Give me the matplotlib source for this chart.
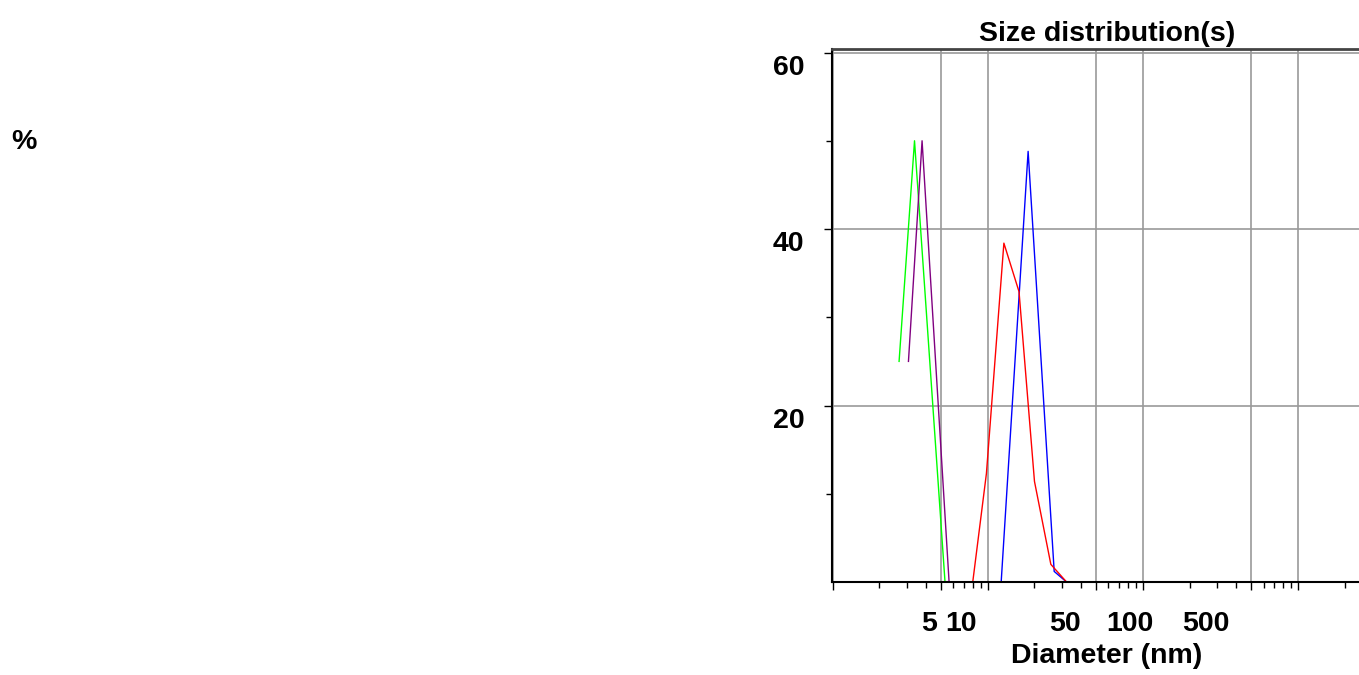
"""
    Size distribution(s) - intensity vs diameter
"""

from matplotlib import pyplot as plt
from matplotlib import ticker, transforms
import numpy as np

# data (diameter in nm, %)
green_x = [2.68, 3.37, 5.3, 12.0, 30.0, 600.0]
green_y = [25.0, 50.0, 0.0, 0.0, 0.0, 0.0]
purple_x = [3.08, 3.77, 5.63, 250.0]
purple_y = [25.0, 50.0, 0.0, 0.0]
red_x = [8.0, 9.8, 12.7, 15.9, 20.0, 25.5, 32.2, 350.0]
red_y = [0.0, 12.3, 38.4, 32.9, 11.4, 2.0, 0.0, 0.0]
blue_x = [2.4, 12.2, 18.2, 26.8, 32.2, 200.0]
blue_y = [0.0, 0.0, 48.8, 1.2, 0.0, 0.0]

x_major = [1, 5, 10, 50, 100, 500, 1000]
x_labels = ["", "5", "10", "50", "100", "500", ""]
x_label_shift = [0, -12, -27, -31, -13, -45, 0]  # px, as in reference
y_major = [20, 40, 60]
y_minor = [10, 30, 50]

FONT = "Liberation Sans"
FS = 20.5


def draw_fig():
    plt.rcParams["font.family"] = [FONT, "DejaVu Sans"]
    plt.rcParams["font.weight"] = "bold"

    fig = plt.figure(figsize=(13.59, 6.75), dpi=100)
    ax = fig.add_axes([832 / 1359, 93 / 675, 550 / 1359, 533 / 675])

    ax.plot(blue_x, blue_y, color="#0000ff", lw=1.0)
    ax.plot(green_x, green_y, color="#00ff00", lw=1.0)
    ax.plot(purple_x, purple_y, color="#800080", lw=1.0)
    ax.plot(red_x, red_y, color="#ff0000", lw=1.0)

    ax.set_xscale("log")
    ax.set_xlim(0.99, 3480)
    ax.set_ylim(0, 60.4)

    ax.xaxis.set_major_locator(ticker.FixedLocator(x_major))
    ax.xaxis.set_major_formatter(ticker.FixedFormatter(x_labels))
    ax.xaxis.set_minor_locator(ticker.LogLocator(base=10, subs=(2, 3, 4, 6, 7, 8, 9), numticks=20))
    ax.xaxis.set_minor_formatter(ticker.NullFormatter())
    ax.set_yticks(y_major)
    ax.set_yticks(y_minor, minor=True)

    ax.tick_params(axis="both", which="major", direction="out", length=6, width=1.0,
                   labelsize=FS, color="black")
    ax.tick_params(axis="both", which="minor", direction="out", length=4, width=1.0)
    ax.tick_params(axis="x", which="major", pad=15)
    ax.tick_params(axis="y", which="major", pad=14)

    for lab, dx in zip(ax.get_xticklabels(), x_label_shift):
        lab.set_transform(lab.get_transform() + transforms.ScaledTranslation(dx / 100, 0, fig.dpi_scale_trans))
    for lab in ax.get_yticklabels():
        lab.set_transform(lab.get_transform() + transforms.ScaledTranslation(0, -12 / 100, fig.dpi_scale_trans))

    ax.grid(True, which="major", color="#9a9a9a", lw=1.2)
    ax.set_axisbelow(True)

    for side in ["left", "bottom"]:
        ax.spines[side].set_linewidth(1.5)
        ax.spines[side].set_color("black")
    ax.spines["top"].set_linewidth(2.0)
    ax.spines["top"].set_color("#444444")
    ax.spines["right"].set_visible(False)

    ax.set_title("Size distribution(s)", fontsize=FS, fontweight="bold", pad=6)
    ax.set_xlabel("Diameter (nm)", fontsize=FS, fontweight="bold", labelpad=4)
    ax.set_ylabel("%", fontsize=FS, fontweight="bold", rotation=0, va="center")
    ax.yaxis.set_label_coords(-1.469, 0.826)

    plt.savefig("out.png", dpi=100)


if __name__ == "__main__":
    draw_fig()
